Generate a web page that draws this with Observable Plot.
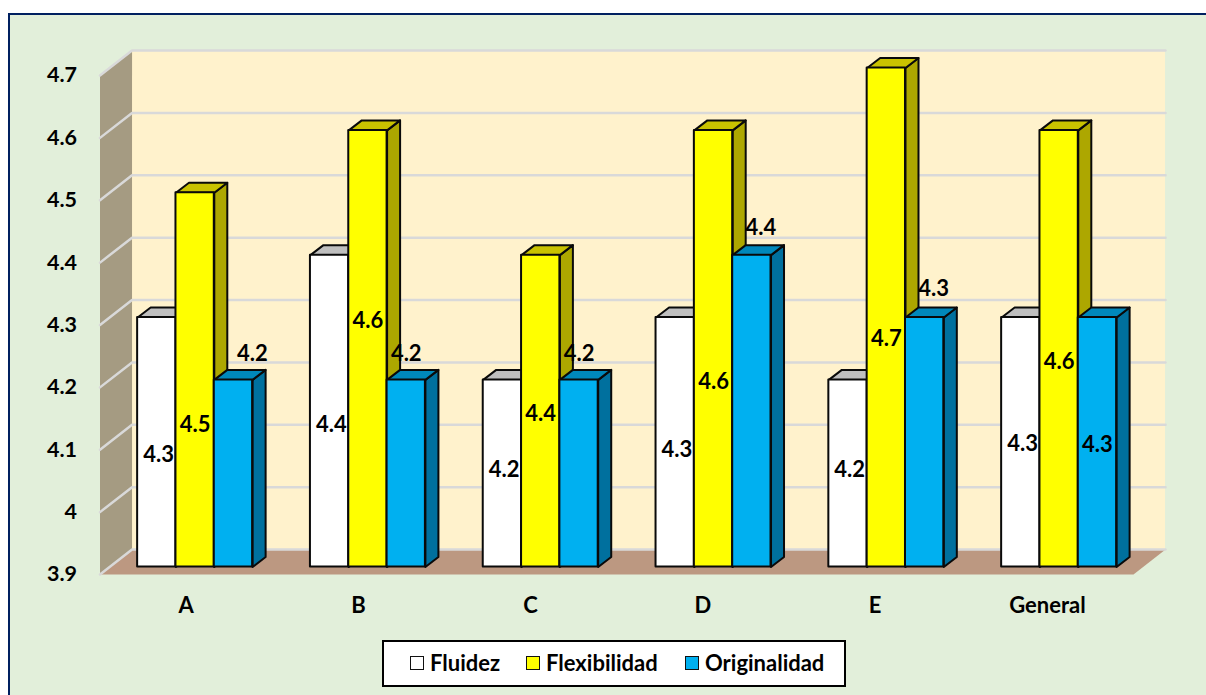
<!DOCTYPE html>
<html><head><meta charset="utf-8">
<script src="https://cdn.jsdelivr.net/npm/d3@7"></script>
<script src="https://cdn.jsdelivr.net/npm/@observablehq/plot@0.6"></script>
<style>
html,body{margin:0;padding:0;background:#fff;width:1206px;height:695px;overflow:hidden}
#frame{position:absolute;left:8px;top:13px;width:1198px;height:682px;background:#E2EFDA;border-left:2px solid #002060;border-top:2px solid #002060;box-sizing:border-box}
#chart{position:absolute;left:0;top:0}
#chart svg{background:transparent;display:block}
#legend{position:absolute;left:382px;top:640px;width:464px;height:47px;box-sizing:border-box;background:#fff;border:2px solid #000;font:700 22px Lato,sans-serif;color:#000}
#legend span{position:absolute;top:9px;line-height:24px;white-space:nowrap}
#legend i{position:absolute;top:14px;width:14px;height:14px;box-sizing:border-box;border:1.5px solid #111}
</style></head><body>
<div id="frame"></div><div id="chart"></div><div id="legend"></div>
<script>
const categories = ["A","B","C","D","E","General"];
const fluidez      = [4.3,4.4,4.2,4.3,4.2,4.3];
const flexibilidad = [4.5,4.6,4.4,4.6,4.7,4.6];
const originalidad = [4.2,4.2,4.2,4.4,4.3,4.3];
const yTicks = [3.9,4,4.1,4.2,4.3,4.4,4.5,4.6,4.7];

// where each printed data label sits, read on the axes
const labelYFluidez      = [4.091,4.140,4.068,4.100,4.068,4.110];
const labelYFlexibilidad = [4.140,4.306,4.157,4.209,4.277,4.240];
const labelYOriginalidad = [4.253,4.253,4.253,4.456,4.357,4.108];
const labelShiftOriginalidad = [0.11,0,0,0.052,0.052,0];

const series = [
  {name:"Fluidez",      values:fluidez,      labelY:labelYFluidez,      shift:[0.01,0.01,0.01,0.01,0.01,0.01], slot:0, front:"#FFFFFF", top:"#BFBFBF", side:"#A6A6A6"},
  {name:"Flexibilidad", values:flexibilidad, labelY:labelYFlexibilidad, shift:[0,0,0,0,0,0],                   slot:1, front:"#FFFF00", top:"#C9C200", side:"#ADA700"},
  {name:"Originalidad", values:originalidad, labelY:labelYOriginalidad, shift:labelShiftOriginalidad,          slot:2, front:"#00B0F0", top:"#0088BB", side:"#00709E"}
];

// oblique projection, in axis units
const Y0 = 3.9, Y1 = 4.7, X1 = 6;
const wallDX = 0.186, wallDY = 0.040;          // depth of the room
const barDX = 0.0755, barDY = 0.016;           // depth of a bar
const barLift = 0.012;                         // bars stand inside the floor
const barStart = 0.2185, barStep = 1.0032, barW = 0.2225;

const barLeft = (i, slot) => barStart + i*barStep + slot*barW;

// room
const backWall = [{x1:wallDX, x2:X1+wallDX, y1:Y0+wallDY, y2:Y1+wallDY}];
const sideWall = [[0,Y0],[0,Y1],[wallDX,Y1+wallDY],[wallDX,Y0+wallDY],[0,Y0]].map(([x,y])=>({x,y}));
const floor = [[0,Y0],[wallDX,Y0+wallDY],[X1+wallDX,Y0+wallDY],[X1,Y0],[0,Y0]].map(([x,y])=>({x,y}));
const grid = yTicks.flatMap(v => [
  {x:0,y:v,k:v},{x:wallDX,y:v+wallDY,k:v},{x:X1+wallDX,y:v+wallDY,k:v}
]);

function barMarks(s){
  const rows = s.values.map((v,i)=>{
    const l = barLeft(i,s.slot), r = l+barW, t = v+barLift, b = Y0+barLift;
    return {i,l,r,t,b};
  });
  const side = rows.flatMap(d=>[[d.r,d.b],[d.r,d.t],[d.r+barDX,d.t+barDY],[d.r+barDX,d.b+barDY],[d.r,d.b]].map(([x,y])=>({x,y,k:d.i})));
  const top  = rows.flatMap(d=>[[d.l,d.t],[d.l+barDX,d.t+barDY],[d.r+barDX,d.t+barDY],[d.r,d.t],[d.l,d.t]].map(([x,y])=>({x,y,k:d.i})));
  const common = {x:"x",y:"y",z:"k",stroke:"#0a0a0a",strokeWidth:2,strokeLinejoin:"round",curve:"linear"};
  return [
    Plot.line(side,{...common,fill:s.side}),
    Plot.line(top,{...common,fill:s.top}),
    Plot.rect(rows,{x1:"l",x2:"r",y1:"b",y2:"t",fill:s.front,stroke:"#0a0a0a",strokeWidth:2,strokeLinejoin:"round"})
  ];
}

const labels = series.flatMap(s => s.values.map((v,i)=>({
  x: barLeft(i,s.slot)+barW/2+s.shift[i],
  y: s.labelY[i],
  t: v.toFixed(1)
})));

const plot = Plot.plot({
  width:1206, height:640,
  marginLeft:99.5, marginRight:73, marginTop:75, marginBottom:66,
  x:{domain:[0,X1]},
  y:{domain:[Y0,Y1]},
  style:{fontFamily:"Lato, sans-serif", background:"transparent", color:"#000", overflow:"visible"},
  marks:[
    Plot.rect(backWall,{x1:"x1",x2:"x2",y1:"y1",y2:"y2",fill:"#FFF2CC"}),
    Plot.line(sideWall,{x:"x",y:"y",fill:"#A59B82",stroke:"none",curve:"linear"}),
    Plot.line(floor,{x:"x",y:"y",fill:"#BC9881",stroke:"none",curve:"linear"}),
    Plot.line(grid,{x:"x",y:"y",z:"k",stroke:"#D9D9D9",strokeWidth:2.5,curve:"linear"}),
    ...series.flatMap(barMarks),
    Plot.text(labels,{x:"x",y:"y",text:"t",fontSize:22,fontWeight:700,fill:"#000"}),
    Plot.axisY({ticks:yTicks,tickSize:0,tickPadding:23,label:null,fontSize:21.5,fontWeight:700,tickFormat:d=>String(d)}),
    Plot.axisX({ticks:categories.map((c,i)=>i+0.5),tickSize:0,tickPadding:23,label:null,fontSize:22,fontWeight:700,tickFormat:d=>categories[Math.floor(d)]})
  ]
});
document.getElementById("chart").appendChild(plot);

// legend
const lg = document.getElementById("legend");
[[26,46],[142,162],[301,321]].forEach(([sx,tx],k)=>{
  const sw=document.createElement("i"); sw.style.left=sx+"px"; sw.style.background=series[k].front; lg.appendChild(sw);
  const tt=document.createElement("span"); tt.style.left=tx+"px"; tt.textContent=series[k].name; lg.appendChild(tt);
});
</script></body></html>
